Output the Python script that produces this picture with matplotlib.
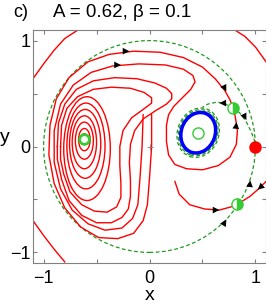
import numpy as np
import matplotlib.pyplot as plt
from matplotlib.patches import Circle, Ellipse

plt.rcParams['font.family'] = ['Liberation Sans', 'DejaVu Sans']

RED, GREEN, DGREEN, BLUE = '#ff0000', '#33cc33', '#1f9a1f', '#0000ff'

# fixed points
centre_x, centre_y = [-0.62, 0.46], [0.07, 0.13]
saddle_x, saddle_y = [0.79, 0.83], [0.36, -0.54]
node_x, node_y = [1.0], [0.0]

# nested orbits round the left centre: left, right, top, bottom extents
loop_l = [-0.65, -0.67, -0.70, -0.73, -0.755, -0.78, -0.81]
loop_r = [-0.585, -0.56, -0.53, -0.50, -0.46, -0.42, -0.37]
loop_t = [0.12, 0.17, 0.23, 0.29, 0.35, 0.41, 0.47]
loop_b = [0.02, -0.04, -0.12, -0.21, -0.30, -0.40, -0.51]

# bean shaped orbits further out
bean0_x = [-0.84, -0.83, -0.78, -0.68, -0.53, -0.36, -0.18, -0.05, 0.02, 0.02, -0.06, -0.17,
           -0.25, -0.28, -0.28, -0.27, -0.27, -0.31, -0.40, -0.52, -0.64, -0.75, -0.81,
           -0.84, -0.84]
bean0_y = [0.0, 0.20, 0.36, 0.47, 0.54, 0.56, 0.55, 0.51, 0.46, 0.41, 0.35, 0.27,
           0.15, 0.0, -0.18, -0.35, -0.48, -0.57, -0.62, -0.61, -0.55, -0.43, -0.26,
           -0.12, 0.0]
bean1_x = [-0.87, -0.86, -0.80, -0.69, -0.53, -0.33, -0.12, 0.05, 0.16, 0.21, 0.21, 0.16,
           0.06, -0.06, -0.14, -0.18, -0.19, -0.18, -0.18, -0.20, -0.26, -0.36, -0.50,
           -0.64, -0.76, -0.83, -0.87, -0.87]
bean1_y = [0.0, 0.22, 0.40, 0.54, 0.62, 0.65, 0.64, 0.60, 0.55, 0.50, 0.45, 0.40,
           0.34, 0.26, 0.15, 0.02, -0.15, -0.32, -0.47, -0.59, -0.67, -0.72, -0.72,
           -0.65, -0.51, -0.31, -0.12, 0.0]

# limit cycle and the dashed manifolds hugging it
cycle = dict(cx=0.46, cy=0.13, w=0.32, h=0.39, angle=-20)
hug_scale = [1.07, 1.14, 1.22]

# outer trajectories outside the unit circle
arc_ul_x = [-1.1, -1.0, -0.9, -0.8, -0.66]
arc_ul_y = [0.64, 0.78, 0.91, 1.02, 1.11]
arc_ll_x = [-1.1, -1.0, -0.9, -0.8]
arc_ll_y = [-0.70, -0.84, -0.97, -1.09]
arc_ur_x = [0.79, 0.9, 1.0, 1.1]
arc_ur_y = [1.11, 1.04, 0.94, 0.80]
arc_lr_x = [1.1, 1.03, 0.95, 0.87, 0.83]
arc_lr_y = [-0.33, -0.40, -0.47, -0.52, -0.54]

# separatrix into the upper saddle from above
sep1_x = [0.02, 0.02, 0.0, -0.02, -0.06, -0.15, -0.30, -0.48, -0.65, -0.80, -0.90, -0.95,
          -0.94, -0.88, -0.76, -0.58, -0.38, -0.15, 0.10, 0.32, 0.50, 0.62, 0.71, 0.76, 0.79]
sep1_y = [0.30, 0.0, -0.30, -0.55, -0.70, -0.82, -0.87, -0.86, -0.76, -0.58, -0.35, -0.08,
          0.20, 0.45, 0.65, 0.80, 0.87, 0.90, 0.89, 0.84, 0.75, 0.64, 0.53, 0.44, 0.36]
# separatrix into the upper saddle from below
sep2_x = [-0.06, -0.07, -0.09, -0.11, -0.16, -0.26, -0.42, -0.58, -0.73, -0.84, -0.90,
          -0.90, -0.84, -0.72, -0.55, -0.35, -0.10, 0.15, 0.32, 0.41, 0.43, 0.39, 0.31,
          0.23, 0.18, 0.16, 0.16, 0.18, 0.24, 0.35, 0.50, 0.65, 0.76, 0.82, 0.83, 0.81, 0.79]
sep2_y = [0.30, 0.0, -0.30, -0.55, -0.68, -0.77, -0.79, -0.73, -0.60, -0.40, -0.15,
          0.15, 0.40, 0.58, 0.70, 0.76, 0.78, 0.77, 0.73, 0.67, 0.61, 0.54, 0.46,
          0.38, 0.30, 0.20, 0.05, -0.08, -0.17, -0.21, -0.22, -0.18, -0.10, 0.02, 0.15, 0.28, 0.36]
# trajectory into the lower saddle from the inside
sep3_x = [0.24, 0.28, 0.38, 0.52, 0.66, 0.77, 0.83]
sep3_y = [-0.33, -0.45, -0.55, -0.59, -0.60, -0.57, -0.54]

# dashed unstable manifolds of the upper saddle
man1_x = [0.79, 0.72, 0.64, 0.55, 0.50]
man1_y = [0.36, 0.40, 0.42, 0.40, 0.37]
man2_x = [0.79, 0.85, 0.91, 0.96, 0.99, 1.0]
man2_y = [0.36, 0.32, 0.24, 0.14, 0.06, 0.0]

# arrow heads: position and direction
arr_x = [-0.20, -0.28, 0.72, 0.82, 0.67, 0.91, 0.95, 1.03, 0.65, 0.72]
arr_y = [0.90, 0.77, 0.53, 0.22, 0.41, 0.26, -0.33, -0.40, -0.60, -0.70]
arr_dx = [1, 1, 0.5, 0.1, -1, 0.5, 0.1, -0.8, 1, 0.6]
arr_dy = [0, 0, -1, 1, 0, -1, 1, -0.7, 0, 1]

fig = plt.figure(figsize=(2.66, 3.03), dpi=100)
ax = fig.add_axes([33 / 266, 40 / 303, 233 / 266, 233 / 303])

for l, r, t, b in zip(loop_l, loop_r, loop_t, loop_b):
    ax.add_patch(Ellipse(((l + r) / 2, (t + b) / 2), r - l, t - b, fill=False, color=RED, lw=1))

for xs, ys in [(bean0_x, bean0_y), (bean1_x, bean1_y), (arc_ul_x, arc_ul_y),
               (arc_ll_x, arc_ll_y), (arc_ur_x, arc_ur_y), (arc_lr_x, arc_lr_y),
               (sep1_x, sep1_y), (sep2_x, sep2_y), (sep3_x, sep3_y)]:
    ax.plot(xs, ys, color=RED, lw=1, solid_joinstyle='round')

dash = (0, (3, 2))
ax.add_patch(Circle((0, 0), 1.0, fill=False, color=DGREEN, ls=dash, lw=0.9))
for s in hug_scale:
    ax.add_patch(Ellipse((cycle['cx'], cycle['cy']), cycle['w'] * s, cycle['h'] * s,
                         angle=cycle['angle'], fill=False, color=DGREEN, ls=dash, lw=0.9))
for xs, ys in [(man1_x, man1_y), (man2_x, man2_y)]:
    ax.plot(xs, ys, color=DGREEN, ls=dash, lw=0.9)
ax.add_patch(Ellipse((cycle['cx'], cycle['cy']), cycle['w'], cycle['h'], angle=cycle['angle'],
                     fill=False, color=BLUE, lw=2.5))

for x, y, dx, dy in zip(arr_x, arr_y, arr_dx, arr_dy):
    ax.annotate('', xy=(x + 0.01 * dx, y + 0.01 * dy), xytext=(x, y),
                arrowprops=dict(arrowstyle='-|>,head_length=0.6,head_width=0.3',
                                color='k', lw=0, mutation_scale=8, shrinkA=0, shrinkB=0))

ax.plot(centre_x[:1], centre_y[:1], 'o', ms=7, mfc='white', mec=GREEN, mew=2)
ax.plot(centre_x[1:], centre_y[1:], 'o', ms=8, mfc='none', mec=GREEN, mew=1)
ax.plot(saddle_x, saddle_y, 'o', ms=8, fillstyle='right', mfc=GREEN, mfcalt='white',
        mec=GREEN, mew=1)
ax.plot(node_x, node_y, 'o', ms=8, color=RED)
ax.plot([0], [0], '+', ms=4, color='gray', mew=0.6)

ax.set_xlim(-1.1, 1.1)
ax.set_ylim(-1.1, 1.1)
ax.set_xticks([-1, -0.5, 0, 0.5, 1])
ax.set_xticklabels(['\u22121', '', '0', '', '1'])
ax.set_yticks([-1, -0.5, 0, 0.5, 1])
ax.set_yticklabels(['\u22121', '', '0', '', '1'])
ax.tick_params(direction='in', length=3, top=True, right=True, labelsize=13, pad=2,
               color='gray')
ax.tick_params(axis='x', pad=5)
for sp in ax.spines.values():
    sp.set_color('gray')
ax.set_xlabel('x', fontsize=14, va='baseline')
ax.xaxis.set_label_coords(0.5, -0.16)
ax.set_ylabel('y', fontsize=14, rotation=0, va='center', ha='center')
ax.yaxis.set_label_coords(-0.12, 0.54)

fig.text(13 / 266, 1 - 17 / 303, 'c)', fontsize=13)
fig.text(53 / 266, 1 - 17 / 303, 'A = 0.62, \u03b2 = 0.1', fontsize=13.5)

fig.savefig('out.png', dpi=100)
